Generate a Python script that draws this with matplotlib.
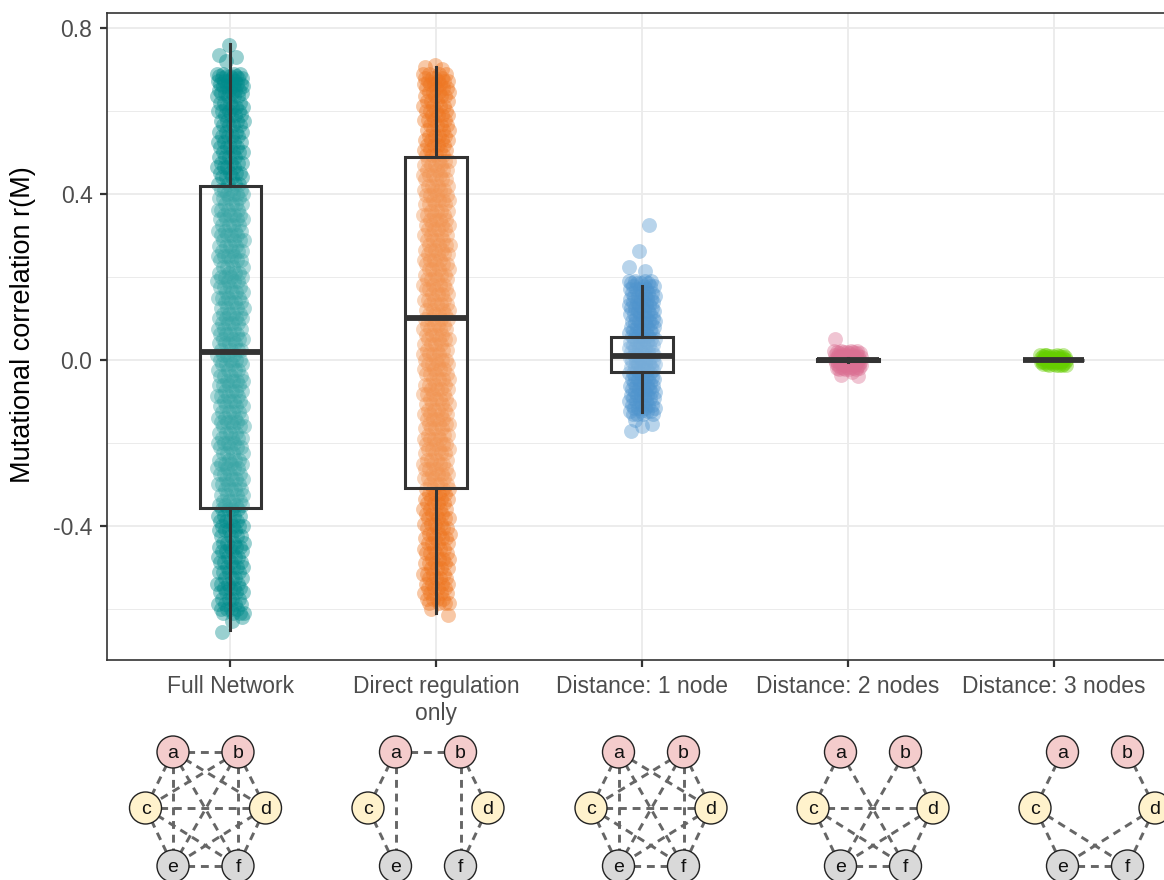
import numpy as np
import matplotlib
matplotlib.use("Agg")
import matplotlib.pyplot as plt
from matplotlib.patches import Circle

plt.rcParams['font.family'] = ['Liberation Sans', 'DejaVu Sans']

# categories and colours
groups = ["Full Network", "Direct regulation\nonly", "Distance: 1 node",
          "Distance: 2 nodes", "Distance: 3 nodes"]
colors = ["#008B8B", "#EE7621", "#4F94CD", "#DB7093", "#66CD00"]

# mutational correlations
# dense part of each cloud (many overlapping runs per value)
full_core = [0.69, 0.685, 0.68, 0.672, 0.665, 0.66, 0.65, 0.644, 0.635, 0.62, 0.61, 0.60,
             0.59, 0.575, 0.566, 0.55, 0.54, 0.525, 0.514, 0.50, 0.49, 0.475, 0.465, 0.45,
             0.44, 0.425, 0.41, 0.40, 0.39, 0.375, 0.362, 0.35, 0.34, 0.325, 0.31, 0.30,
             0.29, 0.275, 0.262, 0.25, 0.24, 0.225, 0.21, 0.20, 0.19, 0.175, 0.163, 0.15,
             0.14, 0.125, 0.11, 0.10, 0.09, 0.075, 0.062, 0.05, 0.04, 0.025, 0.012, 0.0,
             -0.01, -0.025, -0.038, -0.05, -0.06, -0.075, -0.088, -0.10, -0.11, -0.125,
             -0.14, -0.15, -0.16, -0.175, -0.188, -0.20, -0.21, -0.225, -0.24, -0.25, -0.26,
             -0.275, -0.288, -0.30, -0.31, -0.325, -0.34, -0.35, -0.36, -0.375, -0.388,
             -0.40, -0.41, -0.425, -0.44, -0.45, -0.46, -0.475, -0.488, -0.50, -0.51, -0.525,
             -0.54, -0.55, -0.56, -0.575, -0.588, -0.60, -0.61]
direct_core = [0.69, 0.68, 0.672, 0.665, 0.655, 0.645, 0.635, 0.625, 0.612, 0.60, 0.59,
               0.578, 0.565, 0.555, 0.54, 0.53, 0.518, 0.505, 0.495, 0.48, 0.47, 0.458,
               0.445, 0.435, 0.42, 0.41, 0.398, 0.385, 0.375, 0.36, 0.35, 0.338, 0.325,
               0.315, 0.30, 0.29, 0.278, 0.265, 0.255, 0.24, 0.23, 0.218, 0.205, 0.195,
               0.18, 0.17, 0.158, 0.145, 0.135, 0.12, 0.11, 0.098, 0.085, 0.075, 0.06, 0.05,
               0.038, 0.025, 0.015, 0.0, -0.01, -0.022, -0.035, -0.045, -0.06, -0.07,
               -0.082, -0.095, -0.105, -0.12, -0.13, -0.142, -0.155, -0.165, -0.18, -0.19,
               -0.202, -0.215, -0.225, -0.24, -0.25, -0.262, -0.275, -0.285, -0.30, -0.31,
               -0.322, -0.335, -0.345, -0.36, -0.37, -0.382, -0.395, -0.405, -0.42, -0.43,
               -0.442, -0.455, -0.465, -0.48, -0.49, -0.502, -0.515, -0.525, -0.54, -0.55,
               -0.562, -0.575, -0.585]
dist1_core = [0.19, 0.185, 0.178, 0.17, 0.162, 0.155, 0.148, 0.14, 0.132, 0.125, 0.118,
              0.11, 0.102, 0.095, 0.088, 0.08, 0.072, 0.065, 0.058, 0.05, 0.043, 0.035,
              0.028, 0.02, 0.013, 0.005, -0.002, -0.01, -0.017, -0.025, -0.032, -0.04,
              -0.047, -0.055, -0.062, -0.07, -0.077, -0.085, -0.092, -0.1, -0.108, -0.115,
              -0.122, -0.13]
dist2_core = [0.022, 0.019, 0.016, 0.013, 0.01, 0.007, 0.004, 0.002, 0.0, -0.002, -0.004,
              -0.007, -0.01, -0.013, -0.016, -0.019, -0.022]
dist3_core = [0.012, 0.009, 0.006, 0.004, 0.002, 0.0, -0.002, -0.004, -0.006, -0.009,
              -0.012]
# isolated runs at the ends of each cloud
full_ext = [0.76, 0.735, 0.73, 0.72, -0.62, -0.63, -0.655]
direct_ext = [0.71, 0.705, 0.70, -0.60, -0.615]
dist1_ext = [0.325, 0.262, 0.225, 0.215, -0.145, -0.155, -0.16, -0.172]
dist2_ext = [0.05, -0.03, -0.036, -0.039]
dist3_ext = [0.012, -0.012]
cores = [full_core, direct_core, dist1_core, dist2_core, dist3_core]
extremes = [full_ext, direct_ext, dist1_ext, dist2_ext, dist3_ext]

# box statistics
q1 = [-0.357, -0.308, -0.029, -0.002, 0.0]
med = [0.019, 0.101, 0.010, 0.0, 0.0]
q3 = [0.419, 0.489, 0.055, 0.002, 0.0]
whislo = [-0.651, -0.610, -0.125, -0.004, 0.0]
whishi = [0.761, 0.706, 0.178, 0.004, 0.0]

yticks = [0.8, 0.4, 0.0, -0.4]
ytick_labels = ["0.8", "0.4", "0.0", "-0.4"]

# little network sketches under each category
node_names = ["a", "b", "c", "d", "e", "f"]
node_fill = {"a": "#F4CCCC", "b": "#F4CCCC", "c": "#FFF2CC", "d": "#FFF2CC",
             "e": "#D9D9D9", "f": "#D9D9D9"}
edges_full = ["ab", "ac", "ad", "ae", "af", "bc", "bd", "be", "bf", "cd", "ce", "cf",
              "de", "df", "ef"]
edges_direct = ["ab", "ac", "ae", "bd", "bf", "ce", "df"]
edges_d1 = ["ac", "ad", "ae", "af", "bc", "bd", "be", "bf", "cd", "ce", "cf", "de", "df", "ef"]
edges_d2 = ["ac", "af", "bd", "be", "cd", "ce", "cf", "de", "df", "ef"]
edges_d3 = ["ac", "bd", "ce", "cf", "de", "df", "ef"]
networks = [edges_full, edges_direct, edges_d1, edges_d2, edges_d3]

W, H = 1164, 880
fig = plt.figure(figsize=(W / 100, H / 100), dpi=100)
ax = fig.add_axes([107 / W, 220 / H, 1070 / W, 647 / H])

x = np.arange(1, 6)
copies = 4   # overlapping runs drawn per listed value in the dense part
for i in range(5):
    core = np.repeat(cores[i], copies)
    ext = np.array(extremes[i])
    vals = np.concatenate([core, ext])
    k = np.arange(len(vals))
    jit = ((k * 0.618034) % 1.0 * 2 - 1) * 0.065
    ax.scatter(x[i] + jit, vals, s=115, color=colors[i], alpha=0.4,
               linewidths=0, zorder=2)

stats = [dict(med=med[i], q1=q1[i], q3=q3[i], whislo=whislo[i], whishi=whishi[i])
         for i in range(5)]
dark = "#333333"
ax.bxp(stats, positions=x, widths=0.3, showcaps=False, showfliers=False,
       patch_artist=True, manage_ticks=False, zorder=3,
       boxprops=dict(facecolor=(1, 1, 1, 0.22), edgecolor=dark, linewidth=2.2),
       whiskerprops=dict(color=dark, linewidth=2.2),
       medianprops=dict(color=dark, linewidth=4.2, solid_capstyle="butt"))

ax.set_xlim(0.4, 5.6)
ax.set_ylim(-0.723, 0.836)
ax.set_xticks(x)
ax.set_xticklabels(groups)
ax.set_yticks(yticks)
ax.set_yticklabels(ytick_labels)
ax.set_yticks([0.6, 0.2, -0.2, -0.6], minor=True)
ax.grid(True, which="major", color="#EBEBEB", linewidth=1.3, zorder=0)
ax.grid(True, which="minor", axis="y", color="#EBEBEB", linewidth=0.7, zorder=0)
ax.set_axisbelow(True)
ax.tick_params(axis="both", which="major", length=5, width=1.6, color=dark,
               labelsize=16.5, labelcolor="#4D4D4D", pad=5.5)
ax.tick_params(axis="y", which="minor", length=0)
ax.tick_params(axis="x", pad=6)
for sp in ax.spines.values():
    sp.set_color(dark)
    sp.set_linewidth(1.2)
ax.set_ylabel("Mutational correlation r(M)", fontsize=19.5, color="black")
ax.yaxis.set_label_coords(-0.066, 0.518)

# network sketches, drawn in pixel coordinates
net = fig.add_axes([0, 0, 1, 1], zorder=-1)
net.set_xlim(0, W)
net.set_ylim(H, 0)
net.axis("off")
centres = [205.5, 428, 651, 873, 1095]
rel = {"a": (-32.5, 752), "b": (32.5, 752), "c": (-60, 808), "d": (60, 808),
       "e": (-32.5, 866), "f": (32.5, 866)}
for cx, edges in zip(centres, networks):
    pos = {k: (cx + dx, y) for k, (dx, y) in rel.items()}
    for e in edges:
        (x0, y0), (x1, y1) = pos[e[0]], pos[e[1]]
        net.plot([x0, x1], [y0, y1], color="#666666", linewidth=2.1,
                 linestyle=(0, (2.7, 2.0)), zorder=1)
    for k in node_names:
        px, py = pos[k]
        net.add_patch(Circle((px, py), 16, facecolor=node_fill[k],
                             edgecolor="#222222", linewidth=1.0, zorder=2))
        net.text(px, py + 1, k, ha="center", va="center", fontsize=14,
                 color="#111111", zorder=3)

fig.savefig("out.png", dpi=100)
